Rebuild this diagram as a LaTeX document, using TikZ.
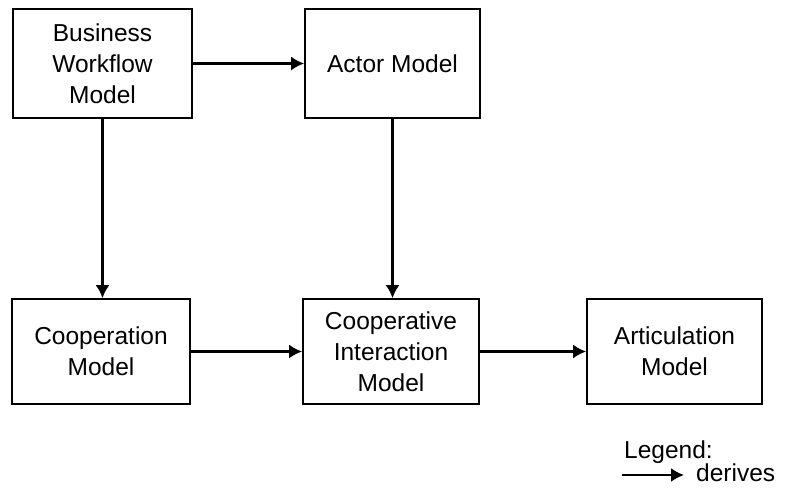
\documentclass[tikz,border=0pt]{standalone}
\usepackage{fontspec}
\setmainfont{Liberation Sans}
\usetikzlibrary{arrows.meta}
\begin{document}
\begin{tikzpicture}[x=1pt,y=-1pt,
  model/.style={draw=black, line width=1.8pt, inner sep=0pt, align=center,
    font=\fontsize{24.5}{31}\selectfont},
  derive/.style={line width=2.2pt, -{Latex[length=13pt,width=14pt]}},
  lbl/.style={inner sep=0pt, font=\fontsize{24.5}{28}\selectfont}]
\useasboundingbox (0,0) rectangle (786,487);
\node[model, minimum width=179pt, minimum height=109pt] (bw) at (102.5,63.5) {Business\\Workflow\\Model};
\node[model, minimum width=175pt, minimum height=109pt] (actor) at (392.5,63.5) {Actor Model};
\node[model, minimum width=178pt, minimum height=105pt] (coop) at (101,351.5) {Cooperation\\Model};
\node[model, minimum width=176pt, minimum height=105pt] (ci) at (391,351.5) {Cooperative\\Interaction\\Model};
\node[model, minimum width=175pt, minimum height=105pt] (art) at (674.5,351.5) {Articulation\\Model};
\draw[derive] (bw) -- (actor);
\draw[derive] (bw.south) -- (bw.south |- coop.north);
\draw[derive] (actor.south) -- (actor.south |- ci.north);
\draw[derive] (coop) -- (ci);
\draw[derive] (ci) -- (art);
\node[lbl, anchor=base west] (legend) at (624,458) {Legend:};
\coordinate (la) at (622,475);
\coordinate (lb) at (684,475);
\draw[derive] (la) -- (lb);
\node[lbl, anchor=base west] (derives) at (696,481) {derives};
\end{tikzpicture}
\end{document}
